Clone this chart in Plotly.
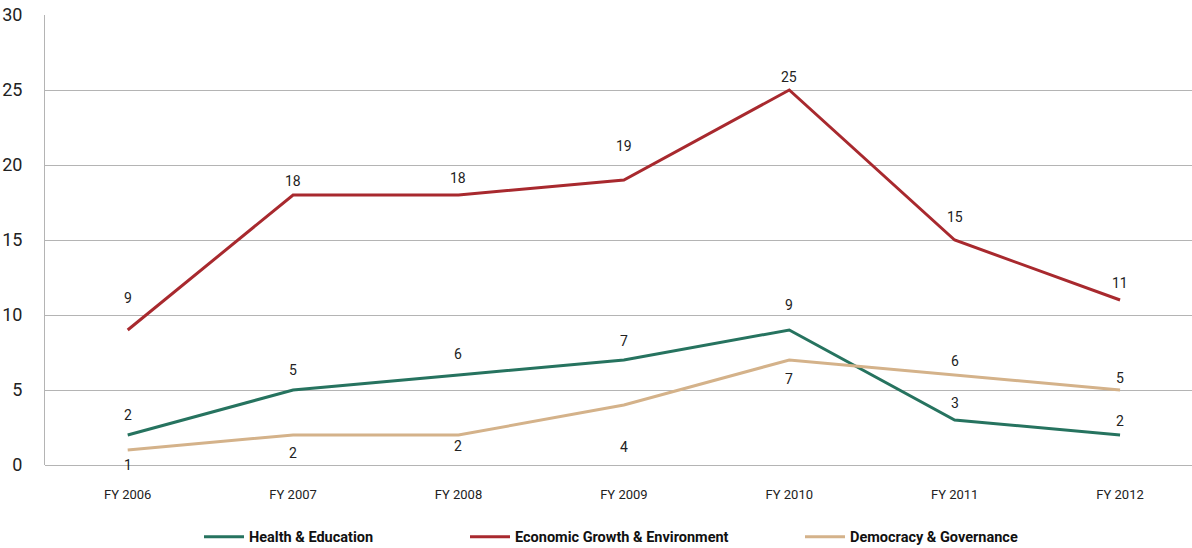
import plotly.graph_objects as go

years = ["FY 2006", "FY 2007", "FY 2008", "FY 2009", "FY 2010", "FY 2011", "FY 2012"]
health = [2, 5, 6, 7, 9, 3, 2]
econ = [9, 18, 18, 19, 25, 15, 11]
democracy = [1, 2, 2, 4, 7, 6, 5]

series_names = ["Health & Education", "Economic Growth & Environment", "Democracy & Governance"]
colors = ["#26735F", "#A8292E", "#D4B28A"]

# vertical pixel offset of each value label from its point (positive = above)
label_shift = [
    [20, 20, 21, 19, 25, 17, 14],
    [32, 14, 17, 34, 13, 23, 17],
    [-15, -18, -11, -42, -19, 14, 12],
]

FONT = "Roboto, Arial, sans-serif"

fig = go.Figure()
legend_ids = ["legend", "legend2", "legend3"]
for i, (name, vals) in enumerate(zip(series_names, [health, econ, democracy])):
    fig.add_trace(go.Scatter(
        x=years, y=vals, mode="lines", name=name,
        line=dict(color=colors[i], width=3),
        legend=legend_ids[i], hoverinfo="skip",
    ))
    for xv, yv, dy in zip(years, vals, label_shift[i]):
        fig.add_annotation(
            x=xv, y=yv, text=str(yv), showarrow=False, yshift=dy,
            font=dict(family=FONT, size=14, color="#222222"),
        )

legend_style = dict(
    orientation="h", yanchor="middle", y=-0.1595, xanchor="left",
    font=dict(family=FONT, size=14.5, color="#111111", weight="bold"),
    bgcolor="rgba(0,0,0,0)", itemwidth=40, tracegroupgap=0,
)

fig.update_layout(
    width=1192, height=548,
    margin=dict(l=45, r=0, t=15, b=83, autoexpand=False),
    paper_bgcolor="white", plot_bgcolor="white",
    showlegend=True,
    legend=dict(legend_style, x=(199 - 45) / 1147),
    legend2=dict(legend_style, x=(465 - 45) / 1147),
    legend3=dict(legend_style, x=(800 - 45) / 1147),
    xaxis=dict(
        type="category", range=[-0.5, 6.435],
        showgrid=False, showline=False, zeroline=False, ticks="",
        tickfont=dict(family=FONT, size=13, color="#222222"),
        ticklabelstandoff=20,
    ),
    yaxis=dict(
        range=[0, 30], dtick=5, tick0=0,
        showgrid=True, gridcolor="#B4B4B4", gridwidth=1,
        zeroline=True, zerolinecolor="#B4B4B4", zerolinewidth=1,
        showline=True, linecolor="#B4B4B4", linewidth=1,
        ticks="", tickfont=dict(family=FONT, size=18, color="#222222"),
        ticklabelstandoff=18,
    ),
)

fig.write_html("out.html")
